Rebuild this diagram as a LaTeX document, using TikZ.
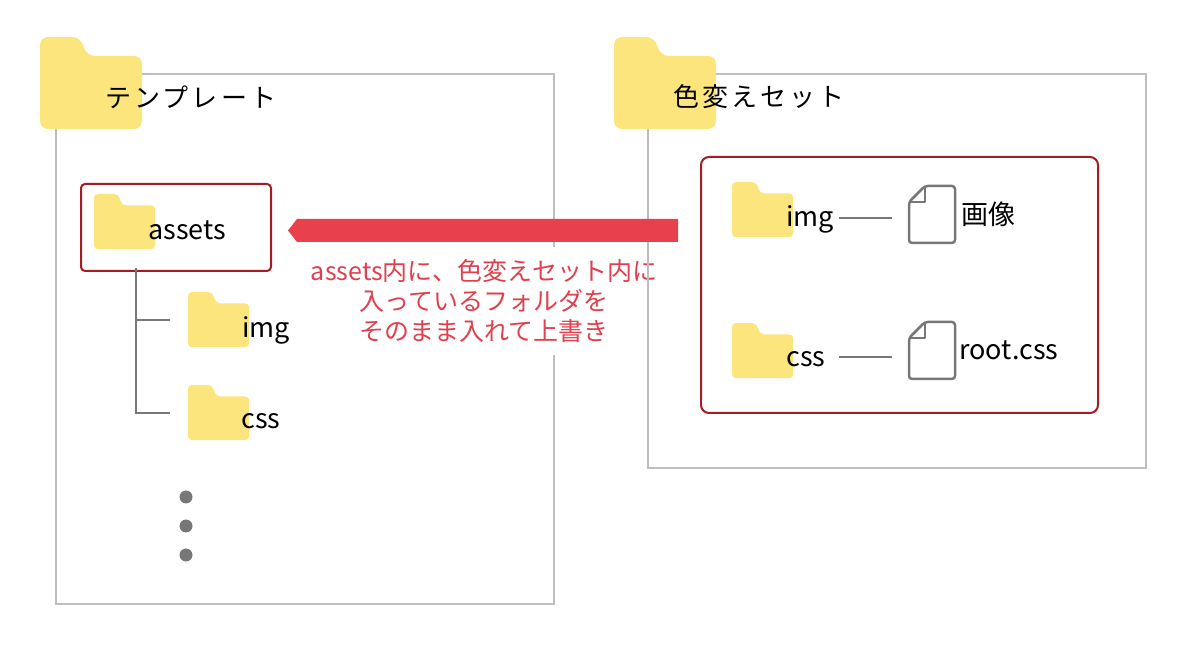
\documentclass[tikz,border=0pt]{standalone}
\usepackage{fontspec}
\setmainfont{Noto Sans CJK JP}
\usetikzlibrary{calc}
\definecolor{folderyellow}{HTML}{FCE57C}
\definecolor{boxgray}{HTML}{BEBEBE}
\definecolor{linegray}{HTML}{777777}
\definecolor{boxred}{HTML}{A51C24}
\definecolor{arrowred}{HTML}{E8404D}
\definecolor{textred}{HTML}{E0404E}
\tikzset{
  graybox/.style={draw=boxgray, line width=1pt, anchor=north west, inner sep=0pt},
  redbox/.style={draw=boxred, line width=1pt, anchor=north west, inner sep=0pt},
  treeline/.style={draw=linegray, line width=1pt},
  heading/.style={anchor=west, inner sep=0pt, font=\fontsize{13}{15}\selectfont\addfontfeature{LetterSpace=12}},
  itemtext/.style={anchor=base west, inner sep=0pt, font=\fontsize{13.5}{16}\selectfont},
  dot/.style={circle, fill=linegray, inner sep=0pt, minimum size=6.5pt},
  pics/folder/.style={code={
    \fill[folderyellow] (0,92) -- (0,0) -- (40,0) -- (47,19) -- (102,19) -- (102,92) -- cycle;
  }},
  pics/file/.style={code={
    \draw[linegray, line width=1.25pt, rounded corners=1.5pt, line join=round] (16,0) -- (46,0) -- (46,57) -- (0,57) -- (0,16) -- cycle;
    \draw[linegray, line width=1.25pt, line join=round] (0,16) -- (16,16) -- (16,0);
  }}
}
\begin{document}
\begin{tikzpicture}[x=0.5pt,y=-0.5pt]
%\draw[help lines,step=50] (0,0) grid (1200,646);
\useasboundingbox (0,0) rectangle (1200,646);
% template
\node[graybox, minimum width=249pt, minimum height=265pt] (tbox) at (55,73) {};
\pic[rounded corners=4pt] at (40,37) {folder};
\node[heading] (ttitle) at (105,97) {テンプレート};
\node[redbox, rounded corners=2pt, minimum width=95pt, minimum height=43.5pt] (abox) at (80,183) {};
\pic[scale=0.6, rounded corners=2pt] at (94,194) {folder};
\node[itemtext] (tassets) at (148,240) {assets};
\coordinate (treetop) at (136,268);
\coordinate (br1) at (170,320);
\coordinate (br2) at (170,413);
\draw[treeline] (treetop) |- (br2);
\draw[treeline] (treetop |- br1) -- (br1);
\pic[scale=0.6, rounded corners=2pt] at (188,292) {folder};
\node[itemtext] (timg) at (242,338) {img};
\pic[scale=0.6, rounded corners=2pt] at (188,385) {folder};
\node[itemtext] (tcss) at (241,429) {css};
\foreach \y [count=\i] in {497,526,555}
  \node[dot] (d\i) at (186,\y) {};
% note
\node[font=\fontsize{12.5}{15}\selectfont, text=textred, fill=white, align=center, inner xsep=2pt, inner ysep=6pt] (note) at (484,301) {assets内に、色変えセット内に\\入っているフォルダを\\そのまま入れて上書き};
% colour set
\node[graybox, minimum width=249pt, minimum height=197pt] (sbox) at (647,73) {};
\pic[rounded corners=4pt] at (614,37) {folder};
\node[heading] (stitle) at (673,97) {色変えセット};
\node[redbox, rounded corners=4pt, minimum width=198.5pt, minimum height=128pt] (rbox) at (700,156) {};
\pic[scale=0.6, rounded corners=2pt] at (732,182) {folder};
\node[itemtext] (simg) at (786,227) {img};
\pic[scale=0.6, rounded corners=2pt] at (732,323) {folder};
\node[itemtext] (scss) at (786,367) {css};
\coordinate (f1) at (909,186);
\coordinate (f2) at (909,322);
\pic at (f1) {file};
\pic at (f2) {file};
\node[itemtext] (simage) at (961,225) {画像};
\node[itemtext] (sroot) at (959,360) {root.css};
\coordinate (l1) at (839,218);
\coordinate (l2) at (839,357);
\draw[treeline] (l1) -- (l1 -| 892,0);
\draw[treeline] (l2) -- (l2 -| 892,0);
% arrow
\coordinate (arrS) at ($(rbox.west |- abox.east)+(-22,3)$);
\coordinate (arrE) at ($(abox.east)+(16,3)$);
\fill[arrowred] (arrE) -- ($(arrE)+(9,-11.5)$) -- ($(arrS)+(0,-11.5)$) -- ($(arrS)+(0,11.5)$) -- ($(arrE)+(9,11.5)$) -- cycle;
\end{tikzpicture}
\end{document}
